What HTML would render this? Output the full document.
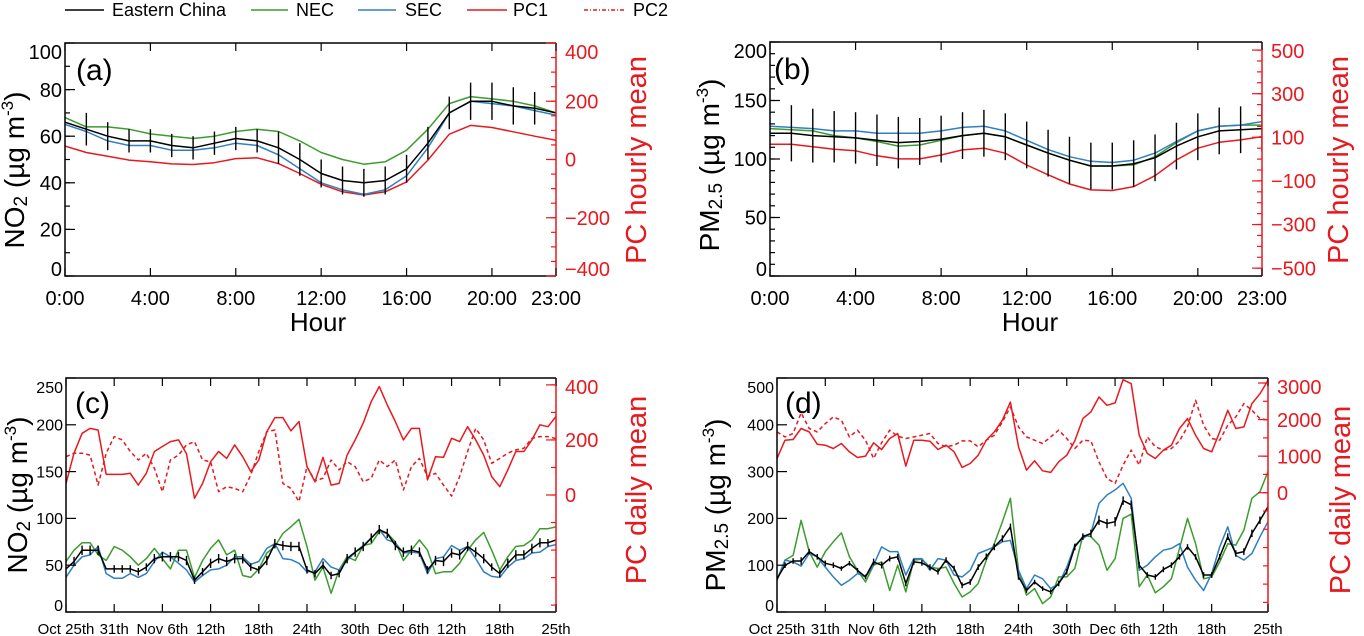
<!DOCTYPE html>
<html>
<head>
<meta charset="utf-8">
<style>
  html, body { margin: 0; padding: 0; background: #ffffff; }
  svg { display: block; font-family: "Liberation Sans", "DejaVu Sans", sans-serif; }
</style>
</head>
<body>
<svg id="fig" xmlns="http://www.w3.org/2000/svg" width="1364" height="636" viewBox="0 0 1364 636">
  <g>
    <g>
      <line x1="65" y1="10" x2="104" y2="10" stroke="#000" stroke-width="1.6"/>
      <text x="112" y="16" font-size="18">Eastern China</text>
    </g>
    <g>
      <line x1="251" y1="10" x2="288" y2="10" stroke="#3c9c2e" stroke-width="1.6"/>
      <text x="296" y="16" font-size="18">NEC</text>
    </g>
    <g>
      <line x1="358" y1="10" x2="396" y2="10" stroke="#2f7fc1" stroke-width="1.6"/>
      <text x="405" y="16" font-size="18">SEC</text>
    </g>
    <g>
      <line x1="467" y1="10" x2="507" y2="10" stroke="#e8191e" stroke-width="1.6"/>
      <text x="513" y="16" font-size="18">PC1</text>
    </g>
    <g>
      <line x1="584" y1="10" x2="625" y2="10" stroke="#e8191e" stroke-width="1.4" stroke-dasharray="4,2,1,2"/>
      <text x="633" y="16" font-size="18">PC2</text>
    </g>
  </g>
</svg>
<script>
// ---------- Panel (a): hourly NO2 ----------
const hours = [0,1,2,3,4,5,6,7,8,9,10,11,12,13,14,15,16,17,18,19,20,21,22,23];
const hourTickValues = [0,4,8,12,16,20,23];
const hourTickLabels = ["0:00","4:00","8:00","12:00","16:00","20:00","23:00"];
const aEastern = [66,63,60,58,58,56,55,57,59,58,55,50,44,41,40,41,46,57,70,75,75,73,72,70];
const aNEC = [68,64,64,63,61,60,59,60,62,63,62,58,53,50,48,49,54,63,74,77,76,75,73,70];
const aSEC = [65,62,58,56,56,54,54,55,57,56,52,46,40,37,35,37,43,55,70,75,74,73,71,69];
const aPC1 = [46,24,11,-2,-8,-15,-17,-11,3,6,-14,-48,-85,-111,-122,-111,-77,-2,87,117,110,95,80,66];
const aErr = [0,7,6,5,5,5,5,5,5,5,7,7,6,6,6,6,6,7,7,8,8,8,7,0];
const aLeftTicks = [0,20,40,60,80,100];
const aRightTicks = [-400,-200,0,200,400];

// ---------- Panel (b): hourly PM2.5 ----------
const bEastern = [122,122,120,119,118,116,114,115,117,120,122,119,112,105,99,94,94,96,101,111,119,124,125,126];
const bNEC = [126,125,124,120,118,115,111,112,116,120,122,119,112,105,99,94,94,95,102,114,124,128,129,129];
const bSEC = [128,127,126,124,124,122,122,122,124,127,128,124,116,108,102,98,97,99,105,115,124,128,129,132];
const bPC1 = [68,68,57,45,38,15,1,1,19,42,50,27,-27,-72,-114,-141,-144,-126,-76,-4,50,77,88,103];
const bErr = [0,24,23,22,22,22,22,20,20,20,20,20,20,20,20,20,20,20,20,20,20,20,20,20];
const bLeftTicks = [0,50,100,150,200];
const bRightTicks = [-500,-300,-100,100,300,500];

// ---------- Panel (c)/(d): daily ----------
const days = [];
for (let i = 0; i < 62; i++) days.push(i);
const dayTickValues = [0,6,12,18,24,30,36,42,48,54,61];
const dayTickLabels = ["Oct 25th","31th","Nov 6th","12th","18th","24th","30th","Dec 6th","12th","18th","25th"];

const cEastern = [46,54,66,66,66,46,46,46,46,43,48,57,59,59,59,55,34,43,52,57,54,57,57,48,45,55,73,71,70,70,45,41,50,39,41,57,64,70,79,88,84,71,64,66,64,45,55,54,63,61,70,64,57,48,41,52,61,61,68,74,74,77];
const cNEC = [54,66,74,74,61,55,70,66,59,50,57,68,57,46,66,66,37,55,68,77,61,66,39,37,46,63,70,84,91,99,70,34,48,20,45,59,55,71,73,86,84,75,55,66,77,66,41,43,43,52,66,77,85,66,45,59,70,71,77,89,89,91];
const cSEC = [37,50,59,61,70,41,36,36,41,37,41,54,64,59,52,45,32,39,45,46,50,59,59,51,54,68,73,57,56,52,43,43,57,48,45,55,64,71,79,88,77,74,63,64,63,41,57,59,71,66,70,57,43,38,37,48,55,57,63,64,70,72];
const cPC1 = [42,152,224,242,236,75,75,75,79,36,79,158,176,194,200,150,-12,42,121,158,133,182,139,85,127,230,281,281,233,267,103,48,137,36,42,145,200,261,339,394,327,267,200,242,242,55,139,137,206,194,248,200,145,67,30,91,158,158,200,255,248,285];
const cPC2 = [139,152,152,145,36,152,212,200,158,127,152,97,12,127,145,182,194,127,121,12,30,24,12,73,158,230,236,42,24,-24,103,51,61,127,91,121,103,48,61,127,103,127,18,103,133,67,79,36,-4,67,158,242,200,115,133,152,164,170,206,212,212,205];
const cErr = [0,5,5,5,5,0,4,4,4,4,4,5,5,5,5,5,4,4,5,5,5,5,5,4,4,5,5,5,5,5,4,4,4,4,4,5,5,5,5,5,5,5,5,5,5,4,5,5,5,5,5,5,5,4,4,5,5,5,5,5,4,0];
const cLeftTicks = [0,50,100,150,200,250];
const cRightTicks = [0,200,400];

const dEastern = [71,100,109,109,129,118,104,100,93,104,89,75,107,100,114,118,61,107,105,96,86,111,93,57,64,96,118,139,157,182,75,46,64,50,43,61,86,139,161,168,196,189,193,238,229,100,79,75,91,100,118,139,118,79,79,118,161,125,129,168,196,225];
const dNEC = [68,111,121,196,129,96,129,150,169,118,89,64,100,107,46,100,43,111,113,96,93,96,61,32,43,61,111,146,193,243,89,36,50,18,32,75,75,93,164,161,143,89,114,200,209,54,79,41,54,71,136,200,146,71,75,107,146,143,175,243,257,300];
const dSEC = [68,111,107,98,125,118,96,75,57,68,82,75,100,139,129,129,79,114,114,89,114,111,79,75,89,125,132,139,150,153,89,50,79,71,50,61,96,143,157,168,232,250,261,275,243,89,100,118,132,136,146,96,68,46,82,139,182,121,111,125,161,193];
const dPC1 = [936,1436,1455,1755,1664,1327,1300,1209,1345,1118,964,1000,1364,1182,1482,1618,727,1436,1436,1409,1182,1300,1118,691,800,1027,1436,1664,1982,2482,1255,618,873,600,555,845,1027,1418,2027,2209,2618,2391,2455,3091,2982,1573,1073,936,1164,1300,1755,2027,1573,1209,1118,1664,2255,1755,1800,2436,2709,3073];
const dPC2 = [1664,1527,1618,2182,1755,1664,1891,2073,1982,1527,1709,1436,936,1364,1709,1545,1482,1527,1573,1618,1345,1255,1300,1418,1418,1255,1436,1573,1936,2345,1800,1527,1436,1345,1527,1709,1482,1209,1436,1418,845,391,255,755,1164,755,1527,1255,1164,1209,1418,1800,2527,1845,1482,1436,1845,2073,2436,2255,2027,1982];
const dErr = [0,6,6,8,6,6,6,6,5,5,5,5,7,7,6,6,6,6,6,6,6,6,6,6,6,6,7,7,7,7,6,5,5,5,5,6,6,7,7,8,10,10,10,9,9,7,6,6,6,6,6,6,6,6,6,6,7,7,7,8,8,8];
const dLeftTicks = [0,100,200,300,400,500];
const dRightTicks = [0,1000,2000,3000];

const GREEN = "#3c9c2e", BLUE = "#2f7fc1", RED = "#e8191e";
const NS = "http://www.w3.org/2000/svg";
const svg = document.getElementById("fig");

function mk(tag, attrs, parent) {
  const e = document.createElementNS(NS, tag);
  for (const k in attrs) e.setAttribute(k, attrs[k]);
  (parent || svg).appendChild(e);
  return e;
}
function clampLabelY(y, p) { return Math.max(p.y0 + 9, Math.min(p.y1 - 7, y)); }

function drawPanel(p) {
  const g = mk("g", {});
  
  
  const sx = v => p.x0 + (v - p.xmin) / (p.xmax - p.xmin) * (p.x1 - p.x0);
  const syL = v => p.y1 - (v - p.ylmin) / (p.ylmax - p.ylmin) * (p.y1 - p.y0);
  const syR = v => p.y1 - (v - p.yrmin) / (p.yrmax - p.yrmin) * (p.y1 - p.y0);

  const clipId = p.name + "-clip";
  const defs = mk("defs", {}, g);
  const cp = mk("clipPath", {id: clipId}, defs);
  mk("rect", {x: p.x0, y: p.y0, width: p.x1 - p.x0, height: p.y1 - p.y0}, cp);

  // series
  const plot = mk("g", {"clip-path": "url(#" + clipId + ")"}, g);
  
  
  function line(xs, ys, sy, color, nm, dash) {
    const pts = xs.map((x, i) => sx(x).toFixed(1) + "," + sy(ys[i]).toFixed(1)).join(" ");
    const pl = mk("polyline", {points: pts, fill: "none", stroke: color, "stroke-width": 1.5, "stroke-linejoin": "round"}, plot);
    if (dash) pl.setAttribute("stroke-dasharray", dash);
    
    
  }
  if (p.pc2) line(p.xs, p.pc2, syR, RED, "pc2-line", "4,3");
  line(p.xs, p.pc1, syR, RED, "pc1-line");
  line(p.xs, p.nec, syL, GREEN, "nec-line");
  line(p.xs, p.sec, syL, BLUE, "sec-line");
  line(p.xs, p.eastern, syL, "#000", "eastern-china-line");
  p.xs.forEach((x, i) => {
    if (!p.err[i]) return;
    const eb = mk("line", {x1: sx(x), x2: sx(x), y1: syL(p.eastern[i] - p.err[i]), y2: syL(p.eastern[i] + p.err[i]), stroke: "#000", "stroke-width": 1.4}, plot);
    
    
  });

  // frame
  const fr = mk("path", {d: `M${p.x1},${p.y0} H${p.x0} V${p.y1} H${p.x1}`, fill: "none", stroke: "#000", "stroke-width": 1.5}, g);
  
  
  const ra = mk("line", {x1: p.x1, x2: p.x1, y1: p.y0, y2: p.y1, stroke: RED, "stroke-width": 1.5}, g);
  
  

  // x ticks
  const xt = mk("g", {}, g);
  
  
  p.xTicks.forEach((v, i) => {
    const x = sx(v);
    mk("line", {x1: x, x2: x, y1: p.y1, y2: p.y1 - 8, stroke: "#000", "stroke-width": 1.2}, xt);
    mk("line", {x1: x, x2: x, y1: p.y0, y2: p.y0 + 8, stroke: "#000", "stroke-width": 1.2}, xt);
    const t = mk("text", {x: x, y: p.xLabelY, "font-size": p.xfs, "text-anchor": "middle"}, xt);
    t.textContent = p.xLabels[i];
    
    
  });
  // left ticks
  const yl = mk("g", {}, g);
  
  
  if (p.lMinor) for (let v = p.ylmin; v <= p.ylmax; v += p.lMinor) {
    mk("line", {x1: p.x0, x2: p.x0 + 5, y1: syL(v), y2: syL(v), stroke: "#000", "stroke-width": 1.2}, yl);
  }
  p.lTicks.forEach(v => {
    const y = syL(v);
    mk("line", {x1: p.x0, x2: p.x0 + 10, y1: y, y2: y, stroke: "#000", "stroke-width": 1.2}, yl);
    const t = mk("text", {x: p.x0 - 3, y: clampLabelY(y, p) + p.yfs * 0.36, "font-size": p.yfs, "text-anchor": "end"}, yl);
    t.textContent = String(v);
    
    
  });
  // right ticks
  const yr = mk("g", {}, g);
  
  
  if (p.rMinor) for (let v = Math.ceil(p.yrmin / p.rMinor) * p.rMinor; v <= p.yrmax; v += p.rMinor) {
    mk("line", {x1: p.x1, x2: p.x1 - 5, y1: syR(v), y2: syR(v), stroke: RED, "stroke-width": 1.2}, yr);
  }
  p.rTicks.forEach(v => {
    const y = syR(v);
    mk("line", {x1: p.x1, x2: p.x1 - 10, y1: y, y2: y, stroke: RED, "stroke-width": 1.2}, yr);
    const t = mk("text", {x: p.x1 + 9, y: clampLabelY(y, p) + p.rfs * 0.36, "font-size": p.rfs, fill: RED}, yr);
    t.textContent = v < 0 ? "\u2212" + Math.abs(v) : String(v);
    
    
  });

  // panel letter
  const pl = mk("text", {x: p.letterX, y: p.letterY, "font-size": 30}, g);
  pl.textContent = p.letter;
  
  

  // x title
  if (p.xTitle) {
    const t = mk("text", {x: p.xTitleX, y: 331, "font-size": 26, "text-anchor": "middle"}, g);
    t.textContent = p.xTitle;
    
    
  }
  // left title
  const lt = mk("text", {transform: `translate(${p.ltX},${p.ltY}) rotate(-90)`, "font-size": 28, "text-anchor": "middle"}, g);
  
  
  const s1 = mk("tspan", {}, lt); s1.textContent = p.species;
  const s2 = mk("tspan", {"font-size": 19, dy: 3}, lt); s2.textContent = p.sub;
  const s3 = mk("tspan", {dy: -3}, lt); s3.textContent = "  (\u00b5g m";
  const s4 = mk("tspan", {"font-size": 17, dy: -11}, lt); s4.textContent = "-3";
  const s5 = mk("tspan", {dy: 11}, lt); s5.textContent = ")";
  // right title
  const rt = mk("text", {transform: `translate(${p.rtX},${p.rtY}) rotate(-90)`, "font-size": 29, "text-anchor": "middle", fill: RED}, g);
  rt.textContent = p.rTitle;
  
  
}

drawPanel({name: "panel-a-hourly-no2", x0: 65, x1: 556, y0: 43, y1: 276, xmin: 0, xmax: 23,
  ylmin: 0, ylmax: 100, yrmin: -400, yrmax: 400, xs: hours,
  eastern: aEastern, nec: aNEC, sec: aSEC, pc1: aPC1, err: aErr,
  xTicks: hourTickValues, xLabels: hourTickLabels, xLabelY: 305, xfs: 20,
  lTicks: aLeftTicks, lMinor: 10, rTicks: aRightTicks, rMinor: 50, yfs: 20, rfs: 20,
  letter: "(a)", letterX: 76, letterY: 80, xTitle: "Hour", xTitleX: 318,
  ltX: 24, ltY: 170, species: "NO", sub: "2", rtX: 646, rtY: 160, rTitle: "PC hourly mean"});

drawPanel({name: "panel-b-hourly-pm25", x0: 770, x1: 1262, y0: 42, y1: 276, xmin: 0, xmax: 23,
  ylmin: 0, ylmax: 200, yrmin: -536, yrmax: 537, xs: hours,
  eastern: bEastern, nec: bNEC, sec: bSEC, pc1: bPC1, err: bErr,
  xTicks: hourTickValues, xLabels: hourTickLabels, xLabelY: 305, xfs: 20,
  lTicks: bLeftTicks, lMinor: 10, rTicks: bRightTicks, rMinor: 50, yfs: 20, rfs: 20,
  letter: "(b)", letterX: 774, letterY: 79, xTitle: "Hour", xTitleX: 1030,
  ltX: 719, ltY: 165, species: "PM", sub: "2.5", rtX: 1348, rtY: 160, rTitle: "PC hourly mean"});

drawPanel({name: "panel-c-daily-no2", x0: 66, x1: 556, y0: 378, y1: 612, xmin: 0, xmax: 61,
  ylmin: 0, ylmax: 250, yrmin: -425, yrmax: 425, xs: days,
  eastern: cEastern, nec: cNEC, sec: cSEC, pc1: cPC1, pc2: cPC2, err: cErr,
  xTicks: dayTickValues, xLabels: dayTickLabels, xLabelY: 634, xfs: 15,
  lTicks: cLeftTicks, lMinor: 0, rTicks: cRightTicks, rMinor: 100, yfs: 16, rfs: 20,
  letter: "(c)", letterX: 75, letterY: 413, xTitle: null,
  ltX: 27, ltY: 495, species: "NO", sub: "2", rtX: 646, rtY: 490, rTitle: "PC daily mean"});

drawPanel({name: "panel-d-daily-pm25", x0: 777, x1: 1268, y0: 378, y1: 612, xmin: 0, xmax: 61,
  ylmin: 0, ylmax: 500, yrmin: -3262, yrmax: 3137, xs: days,
  eastern: dEastern, nec: dNEC, sec: dSEC, pc1: dPC1, pc2: dPC2, err: dErr,
  xTicks: dayTickValues, xLabels: dayTickLabels, xLabelY: 634, xfs: 15,
  lTicks: dLeftTicks, lMinor: 0, rTicks: dRightTicks, rMinor: 500, yfs: 16, rfs: 20,
  letter: "(d)", letterX: 785, letterY: 413, xTitle: null,
  ltX: 725, ltY: 505, species: "PM", sub: "2.5", rtX: 1350, rtY: 500, rTitle: "PC daily mean"});
</script>
</body>
</html>
